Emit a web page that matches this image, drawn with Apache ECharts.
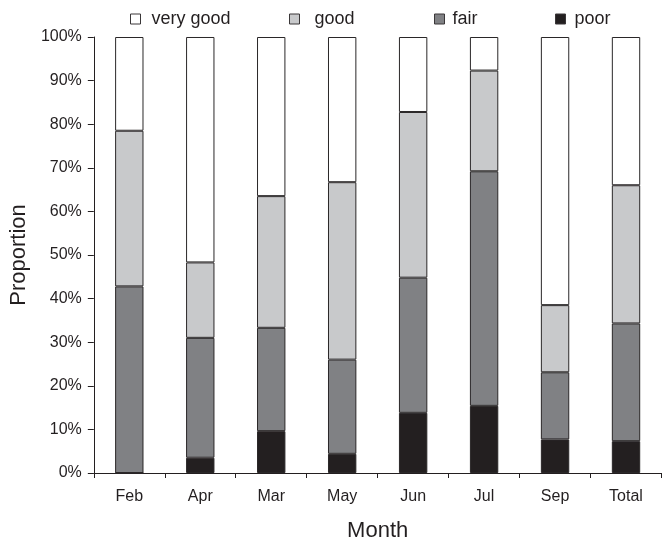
<!DOCTYPE html>
<html>
<head>
<meta charset="utf-8">
<script src="https://cdn.jsdelivr.net/npm/echarts@6/dist/echarts.min.js"></script>
<style>
html,body{margin:0;padding:0;background:#fff;}
#chart{width:664px;height:547px;}
</style>
</head>
<body>
<div id="chart"></div>
<script>
const categories = ['Feb', 'Apr', 'Mar', 'May', 'Jun', 'Jul', 'Sep', 'Total'];
const poor     = [0.0, 3.5, 9.6, 4.4, 13.8, 15.4, 7.7, 7.3];
const fair     = [42.8, 27.5, 23.7, 21.6, 31.0, 53.8, 15.4, 27.0];
const good     = [35.7, 17.3, 30.2, 40.7, 38.0, 23.1, 15.4, 31.7];
const veryGood = [21.5, 51.7, 36.5, 33.3, 17.2, 7.7, 61.5, 34.0];
const yTicks = [0, 10, 20, 30, 40, 50, 60, 70, 80, 90, 100];

const FONT = 'Liberation Sans, Arial, sans-serif';
const ink = '#231f20';
const border = '#2a2728';

function s(name, data, color) {
  return {
    name: name, type: 'bar', stack: 'all', data: data,
    barWidth: '40%',
    itemStyle: { color: color, borderColor: border, borderWidth: 1 },
    emphasis: { disabled: true }
  };
}

function lg(name, left, gap) {
  return {
    left: left, top: 5,
    itemWidth: 10, itemHeight: 10,
    selectedMode: false,
    textStyle: { fontSize: 18, color: ink, fontFamily: FONT, padding: [0, 0, 0, gap] },
    data: [{ name: name, icon: 'rect', itemStyle: { borderColor: '#3a3738', borderWidth: 1 } }]
  };
}

const chart = echarts.init(document.getElementById('chart'), null, { renderer: 'canvas' });
chart.setOption({
  animation: false,
  backgroundColor: '#fff',
  textStyle: { fontFamily: FONT },
  legend: [
    lg('very good', 125, 6),
    lg('good', 284, 10),
    lg('fair', 429, 3),
    lg('poor', 550, 4)
  ],
  grid: { left: 92.5, right: 2.5, top: 37, bottom: 67, containLabel: false },
  xAxis: {
    type: 'category', data: categories,
    name: 'Month', nameLocation: 'middle', nameGap: 47,
    nameTextStyle: { fontSize: 22, color: ink, fontFamily: FONT },
    axisLine: { lineStyle: { color: ink, width: 1 } },
    axisTick: { show: true, alignWithLabel: false, length: 5, lineStyle: { color: ink } },
    axisLabel: { fontSize: 16, color: ink, margin: 16, fontFamily: FONT }
  },
  yAxis: {
    type: 'value', min: 0, max: 100, interval: 10,
    name: 'Proportion', nameLocation: 'middle', nameGap: 57, nameRotate: 90,
    nameTextStyle: { fontSize: 22, color: ink, fontFamily: FONT },
    axisLine: { show: true, lineStyle: { color: ink, width: 1 } },
    axisTick: { show: true, length: 6, lineStyle: { color: ink } },
    splitLine: { show: false },
    axisLabel: {
      fontSize: 16, color: ink, margin: 12, fontFamily: FONT,
      formatter: function (v) { return yTicks.indexOf(v) >= 0 ? v + '%' : ''; }
    }
  },
  series: [
    s('poor', poor, '#231f20'),
    s('fair', fair, '#808184'),
    s('good', good, '#c8c9cb'),
    s('very good', veryGood, '#ffffff')
  ]
});
</script>
</body>
</html>
